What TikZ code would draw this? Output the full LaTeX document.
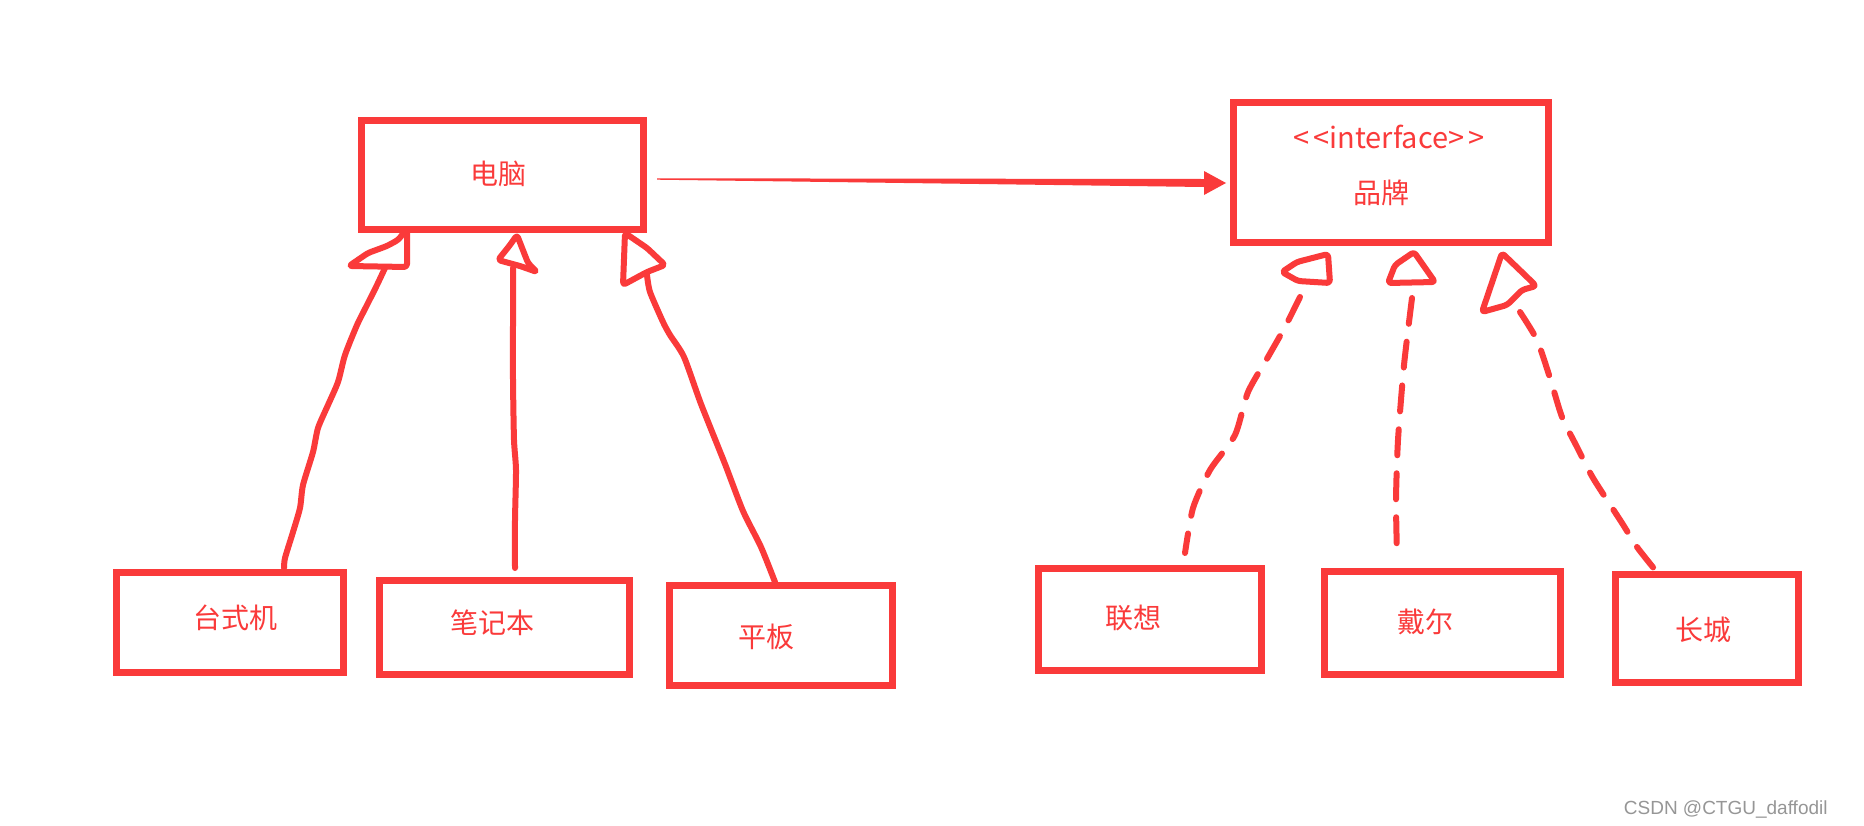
\documentclass[tikz,border=0pt]{standalone}
\usepackage{fontspec}
\newfontfamily\cjk{Noto Sans CJK SC}
\newfontfamily\wmfont{Liberation Sans}
\usetikzlibrary{calc}
\definecolor{pen}{RGB}{250,58,58}
\definecolor{wmgray}{RGB}{150,150,150}
\begin{document}
\begin{tikzpicture}[x=0.5pt,y=-0.5pt,
  box/.style 2 args={draw=pen,line width=3.5pt,inner sep=0pt,outer sep=0pt,
    minimum width=#1,minimum height=#2,line join=miter},
  lbl/.style={text=pen,inner sep=0pt,font=\cjk\fontsize{14pt}{14pt}\selectfont},
  conn/.style={draw=pen,line width=3pt,line cap=round,line join=round},
  dconn/.style={conn,dash pattern=on 13pt off 9pt},
  head/.style={draw=pen,line width=3pt,line cap=round,line join=round,rounded corners=1.5pt}]
\useasboundingbox (0,0) rectangle (1864,825);
\fill[white] (0,0) rectangle (1864,825);
% boxes
\node[box={141pt}{54.5pt}] (pc) at (502.5,175) {};
\node[box={157.5pt}{70pt}] (brand) at (1391,172.5) {};
\node[box={113.5pt}{50pt}] (tsj) at (230,622.5) {};
\node[box={125pt}{47pt}] (bjb) at (504.5,627.5) {};
\node[box={111.5pt}{50pt}] (pb) at (781,635.5) {};
\node[box={111.5pt}{51pt}] (lx) at (1150,619.5) {};
\node[box={118pt}{51.5pt}] (de) at (1442.5,623) {};
\node[box={91.5pt}{54pt}] (cc) at (1707,628.5) {};
% labels
\node[lbl] (pcl) at (498,174) {电脑};
\node[lbl,font=\cjk\fontsize{14.5pt}{14.5pt}\selectfont] (ifl) at (1389,137) {<\kern2pt<interface>\kern2pt>};
\node[lbl] (brl) at (1381,193) {品牌};
\node[lbl] (tsjl) at (235,618) {台式机};
\node[lbl] (bjbl) at (492,623) {笔记本};
\node[lbl] (pbl) at (766,637) {平板};
\node[lbl] (lxl) at (1133,618) {联想};
\node[lbl] (del) at (1425,622) {戴尔};
\node[lbl] (ccl) at (1703,630) {长城};
% association arrow pc -> brand
\coordinate (a1) at (657,179);
\coordinate (a2) at (1226,183);
\fill[pen] ($(a1)+(0,-0.7)$) -- ($(a2)+(-22,-4)$) -- ($(a2)+(-22,-12)$) -- (a2)
  -- ($(a2)+(-22,12)$) -- ($(a2)+(-22,4)$) -- ($(a1)+(0,0.7)$) -- cycle;
% generalization: 台式机
\coordinate (t0) at (284,568);
\coordinate (t1) at (385,268);
\draw[conn] plot[smooth,tension=0.4] coordinates {(t0) (285,558) (293,532) (300,508) (303,485) (313,452) (318,428) (328,405) (338,382) (345,355) (357,325) (367,305) (377,285) (t1)};
\draw[head] (407,229) -- (407,267) -- (349,266) -- (368,253) -- (387,246) -- (398,240) -- cycle;
% 笔记本
\coordinate (b0) at (515,568);
\coordinate (b1) at (513,268);
\draw[conn] plot[smooth,tension=0.4] coordinates {(b0) (515,520) (516,470) (514,440) (513,380) (513,320) (b1)};
\draw[head] (517,235) -- (528,263) -- (537,272) -- (520,266) -- (498,260) -- (510,245) -- cycle;
% 平板
\coordinate (p0) at (775,582);
\coordinate (p1) at (647,275);
\draw[conn] plot[smooth,tension=0.4] coordinates {(p0) (761,547) (743,511) (725,464) (701,404) (684,357) (670,335) (663,322) (650,292) (p1)};
\draw[head] (625,233) -- (623,285) -- (647,272) -- (665,265) -- (647,248) -- cycle;
% realization: 联想
\coordinate (l0) at (1185,553);
\coordinate (l1) at (1300,297);
\draw[dconn] plot[smooth,tension=0.4] coordinates {(l1) (1285,327) (1268,357) (1248,392) (1235,435) (1210,470) (1193,508) (l0)};
\draw[head] (1282,272) -- (1297,262) -- (1328,254) -- (1330,283) -- (1298,281) -- cycle;
% 戴尔
\coordinate (d0) at (1397,555);
\coordinate (d1) at (1412,298);
\draw[dconn] plot[smooth,tension=0.4] coordinates {(d1) (1404,365) (1398,440) (1396,500) (d0)};
\draw[head] (1414,252) -- (1435,282) -- (1388,283) -- (1395,265) -- cycle;
% 长城
\coordinate (c0) at (1656,571);
\coordinate (c1) at (1520,312);
\draw[dconn] plot[smooth,tension=0.4] coordinates {(c1) (1537,340) (1550,378) (1562,417) (1577,447) (1593,478) (1622,523) (1637,547) (c0)};
\draw[head] (1502,253) -- (1527,277) -- (1536,286) -- (1522,290) -- (1507,305) -- (1482,312) -- cycle;
% watermark
\node[text=wmgray,inner sep=0pt,anchor=east,font=\wmfont\fontsize{9.5pt}{9.5pt}\selectfont] (wm) at (1828,809) {CSDN @CTGU\_daffodil};
\end{tikzpicture}
\end{document}
